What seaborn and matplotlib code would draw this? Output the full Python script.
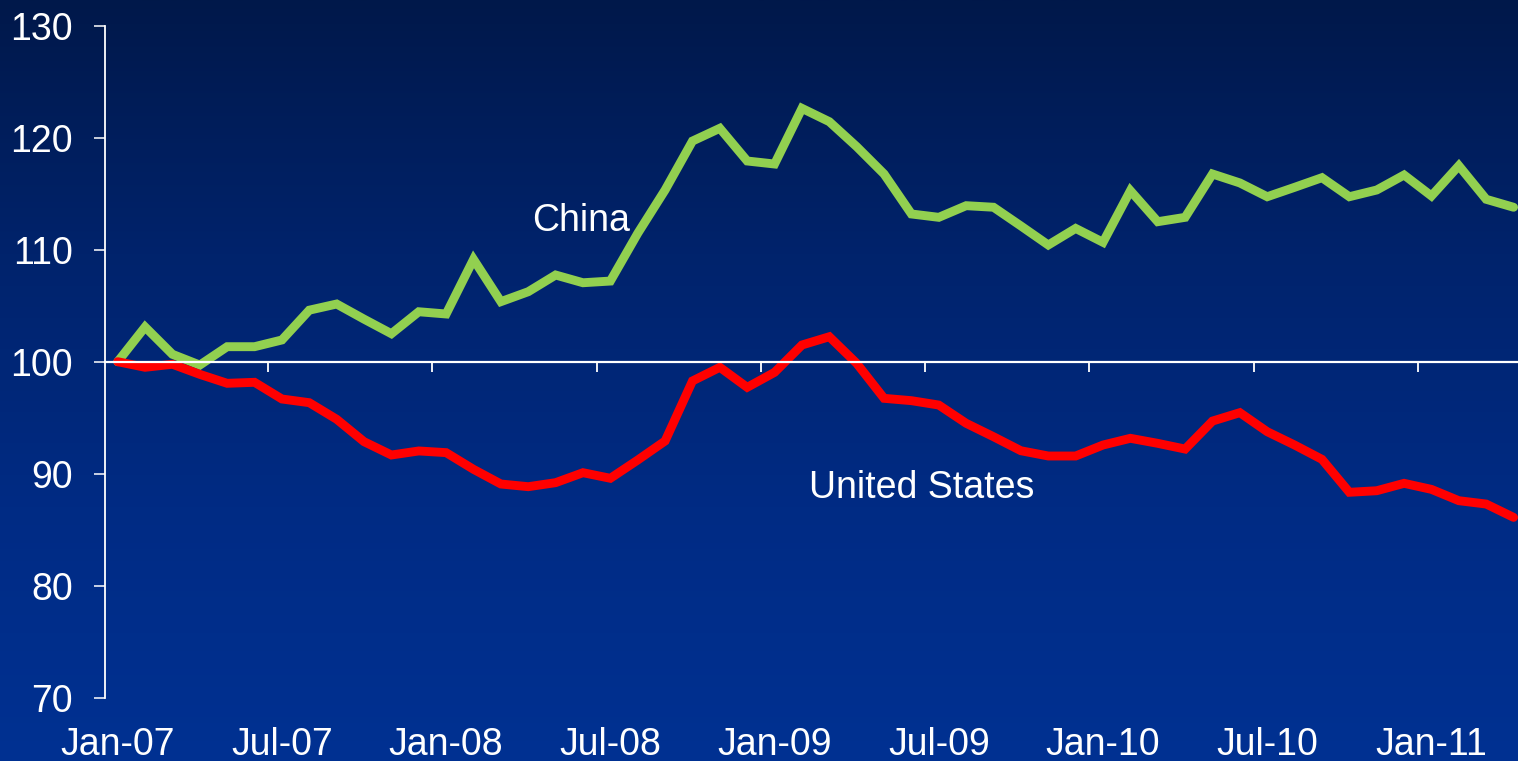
import numpy as np
import pandas as pd
import matplotlib
matplotlib.use("Agg")
import matplotlib.pyplot as plt
from matplotlib.colors import LinearSegmentedColormap
from matplotlib.ticker import FixedLocator
import seaborn as sns

# Monthly index, Jan-2007 = 100
months = pd.date_range("2007-01-01", periods=52, freq="MS")

china = [100.0, 103.1, 100.66, 99.7, 101.34, 101.34, 101.94, 104.6, 105.15, 103.8,
         102.5, 104.46, 104.26, 109.14, 105.36, 106.25, 107.74, 107.05, 107.2, 111.46,
         115.33, 119.7, 120.84, 117.92, 117.65, 122.62, 121.43, 119.2, 116.76, 113.19,
         112.89, 113.93, 113.79, 112.12, 110.42, 111.9, 110.66, 115.27, 112.5, 112.89,
         116.76, 115.96, 114.73, 115.57, 116.43, 114.73, 115.33, 116.67, 114.8, 117.5,
         114.5, 113.79]

united_states = [100.0, 99.5, 99.77, 98.87, 98.07, 98.16, 96.67, 96.34, 94.86, 92.86,
                 91.67, 92.03, 91.88, 90.39, 89.08, 88.84, 89.2, 90.09, 89.59, 91.22,
                 92.92, 98.28, 99.5, 97.71, 99.05, 101.49, 102.23, 99.85, 96.73, 96.52,
                 96.13, 94.5, 93.3, 92.05, 91.58, 91.58, 92.56, 93.16, 92.71, 92.2,
                 94.7, 95.45, 93.75, 92.56, 91.28, 88.34, 88.48, 89.14, 88.6, 87.59,
                 87.29, 86.1]

tick_labels = ["Jan-07", "Jul-07", "Jan-08", "Jul-08", "Jan-09",
               "Jul-09", "Jan-10", "Jul-10", "Jan-11"]
y_ticks = [70, 80, 90, 100, 110, 120, 130]

series_names = ["China", "United States"]
series_colors = {"China": "#92D050", "United States": "#FF0000"}

idx = np.arange(len(months))
df = pd.concat([
    pd.DataFrame({"m": idx, "value": china, "country": "China"}),
    pd.DataFrame({"m": idx, "value": united_states, "country": "United States"}),
])

plt.rcParams["font.family"] = ["Liberation Sans", "DejaVu Sans"]

W, H = 1518, 761
fig = plt.figure(figsize=(W / 100, H / 100), dpi=100)

# vertical gradient background across the whole figure
bg = fig.add_axes([0, 0, 1, 1], zorder=-10)
grad_cmap = LinearSegmentedColormap.from_list(
    "navy", ["#00184a", "#00236c", "#002b84", "#003192"])
bg.imshow(np.linspace(0, 1, 256).reshape(-1, 1), aspect="auto",
          cmap=grad_cmap, extent=[0, 1, 0, 1], origin="upper")
bg.set_axis_off()

left_px, right_px, top_px, bottom_px = 105, 1518, 25.7, 697.7
ax = fig.add_axes([left_px / W, 1 - bottom_px / H,
                   (right_px - left_px) / W, (bottom_px - top_px) / H])
ax.set_facecolor("none")

sns.lineplot(data=df, x="m", y="value", hue="country", hue_order=series_names,
             palette=series_colors, linewidth=6.4, legend=False, ax=ax,
             solid_capstyle="round", solid_joinstyle="miter")

px_per_month = 27.37
x0 = -0.464
ax.set_xlim(x0, x0 + (right_px - left_px) / px_per_month)
ax.set_ylim(70, 130)

# axes styling
for s in ["top", "right"]:
    ax.spines[s].set_visible(False)
ax.spines["left"].set_color("white")
ax.spines["left"].set_linewidth(1.3)
ax.spines["bottom"].set_color("white")
ax.spines["bottom"].set_linewidth(1.6)
ax.spines["bottom"].set_position(("data", 100))

ax.set_yticks(y_ticks)
ax.tick_params(axis="y", colors="white", labelsize=27, length=8, width=1.1,
               direction="out", pad=15)

# tick marks between month groups on the 100 line
ax.set_xticks([])
ax.xaxis.set_minor_locator(FixedLocator(np.arange(5.5, len(months), 6)))
ax.tick_params(axis="x", which="minor", colors="white", length=7.5, width=1.3,
               direction="out", labelbottom=False)
ax.set_xlabel("")
ax.set_ylabel("")

# date labels along the bottom edge
sec = ax.secondary_xaxis(0.0)
sec.set_xticks(idx[::6], labels=tick_labels)
sec.tick_params(axis="x", colors="white", labelsize=27, length=0, pad=21)
sec.spines["bottom"].set_visible(False)

ax.text(16.93, 112.6, "China", color="white", fontsize=27,
        ha="center", va="center")
ax.text(29.39, 88.7, "United States", color="white", fontsize=27,
        ha="center", va="center")

fig.savefig("out.png", dpi=100)
